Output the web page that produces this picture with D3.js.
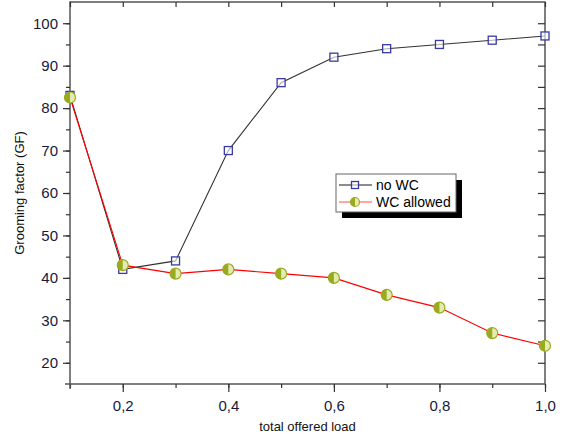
<!DOCTYPE html>
<html>
<head>
<meta charset="utf-8">
<script src="https://cdn.jsdelivr.net/npm/d3@7"></script>
<style>
  body { margin: 0; background: #fff; }
  text { font-family: Arial, "Liberation Sans", sans-serif; }
</style>
</head>
<body>
<div id="chart"></div>
<script>
const load = [0.1, 0.2, 0.3, 0.4, 0.5, 0.6, 0.7, 0.8, 0.9, 1.0];
const noWC = [83, 42, 44, 70, 86, 92, 94, 95, 96, 97];
const wcAllowed = [82.5, 43, 41, 42, 41, 40, 36, 33, 27, 24];
const xTickLabels = [0.2, 0.4, 0.6, 0.8, 1.0];
const yTickLabels = [20, 30, 40, 50, 60, 70, 80, 90, 100];

const width = 571, height = 441;
const margin = { top: 2, right: 26, bottom: 57, left: 70 };

const svg = d3.select("#chart").append("svg")
    .attr("width", width)
    .attr("height", height);

const x = d3.scaleLinear().domain([0.1, 1.0]).range([margin.left, width - margin.right]);
const y = d3.scaleLinear().domain([15, 105]).range([height - margin.bottom, margin.top]);

const axisColor = "#555";
const labelColor = "#141a3c";
const fmt = d => d3.format(".1f")(d).replace(".", ",");

// frame
svg.append("rect")
    .attr("x", x(0.1)).attr("y", y(105))
    .attr("width", x(1.0) - x(0.1)).attr("height", y(15) - y(105))
    .attr("fill", "none").attr("stroke", axisColor).attr("stroke-width", 1.5);

// bottom axis
const xMinor = d3.range(0.1, 1.01, 0.1).map(v => +v.toFixed(1));
svg.append("g").attr("transform", `translate(0,${y(15)})`)
    .call(d3.axisBottom(x).tickValues(xTickLabels).tickFormat(fmt).tickSize(8).tickPadding(8));
svg.append("g").attr("transform", `translate(0,${y(15)})`)
    .call(d3.axisBottom(x).tickValues(xMinor).tickFormat("").tickSize(4));
// top axis, ticks inward
svg.append("g").attr("transform", `translate(0,${y(105)})`)
    .call(d3.axisBottom(x).tickValues(xMinor).tickFormat("").tickSize(5));

// left axis
const yMinor = d3.range(20, 101, 5);
svg.append("g").attr("transform", `translate(${x(0.1)},0)`)
    .call(d3.axisLeft(y).tickValues(yTickLabels).tickSize(7).tickPadding(5));
svg.append("g").attr("transform", `translate(${x(0.1)},0)`)
    .call(d3.axisLeft(y).tickValues(yMinor).tickFormat("").tickSize(4));
// right axis, ticks inward
svg.append("g").attr("transform", `translate(${x(1.0)},0)`)
    .call(d3.axisLeft(y).tickValues(yMinor).tickFormat("").tickSize(7));

svg.selectAll(".domain").remove();
svg.selectAll(".tick line").attr("stroke", "#333").attr("stroke-width", 1.2);
svg.selectAll(".tick text")
    .attr("fill", labelColor)
    .style("font-size", "15px");

// axis corner overhang
svg.append("line")
    .attr("x1", x(0.1)).attr("x2", x(0.1))
    .attr("y1", y(15)).attr("y2", y(15) + 5)
    .attr("stroke", axisColor).attr("stroke-width", 1.5);
svg.append("line")
    .attr("x1", x(0.1) - 5).attr("x2", x(0.1))
    .attr("y1", y(15)).attr("y2", y(15))
    .attr("stroke", axisColor).attr("stroke-width", 1.5);

// axis titles
svg.append("text")
    .attr("x", (x(0.1) + x(1.0)) / 2)
    .attr("y", 431)
    .attr("text-anchor", "middle")
    .attr("fill", "#111")
    .style("font-size", "13px")
    .text("total offered load");

svg.append("text")
    .attr("transform", `translate(24,${(y(15) + y(105)) / 2}) rotate(-90)`)
    .attr("text-anchor", "middle")
    .attr("fill", "#111")
    .style("font-size", "13px")
    .text("Grooming factor (GF)");

// lines
const line = d3.line().x((d, i) => x(load[i])).y(d => y(d));

svg.append("path").datum(noWC)
    .attr("d", line).attr("fill", "none")
    .attr("stroke", "#333").attr("stroke-width", 1.1);

svg.append("path").datum(wcAllowed)
    .attr("d", line).attr("fill", "none")
    .attr("stroke", "#f00").attr("stroke-width", 1.1);

// markers
const olive = "#9aaa1e";
const pale = "#e4ebb0";
function halfCircle(g, cx, cy, r) {
    g.append("circle").attr("cx", cx).attr("cy", cy).attr("r", r)
        .attr("fill", pale).attr("stroke", olive).attr("stroke-width", 1.2);
    g.append("path")
        .attr("d", `M${cx},${cy - r} A${r},${r} 0 0 0 ${cx},${cy + r} Z`)
        .attr("fill", olive);
}
function square(g, cx, cy, s) {
    g.append("rect").attr("x", cx - s / 2).attr("y", cy - s / 2)
        .attr("width", s).attr("height", s)
        .attr("fill", "#fff").attr("fill-opacity", 0.6)
        .attr("stroke", "#3a3aa6").attr("stroke-width", 1.3);
}

const markers = svg.append("g");
noWC.forEach((v, i) => square(markers, x(load[i]), y(v), 8));
wcAllowed.forEach((v, i) => halfCircle(markers, x(load[i]), y(v), 5.5));

// legend
const lg = svg.append("g").attr("transform", "translate(336,174)");
lg.append("rect").attr("x", 6).attr("y", 6).attr("width", 120).attr("height", 38).attr("fill", "#000");
lg.append("rect").attr("x", 0).attr("y", 0).attr("width", 120).attr("height", 38)
    .attr("fill", "#fff").attr("stroke", "#666").attr("stroke-width", 1);

const legendItems = [
    { name: "no WC", color: "#666", mark: "square" },
    { name: "WC allowed", color: "#f88", mark: "circle" }
];
legendItems.forEach((d, i) => {
    const cy = 11 + i * 17;
    lg.append("line").attr("x1", 3).attr("x2", 36).attr("y1", cy).attr("y2", cy)
        .attr("stroke", d.color).attr("stroke-width", 1.3);
    if (d.mark === "square") square(lg, 19, cy, 7);
    else halfCircle(lg, 19, cy, 4.5);
    lg.append("text").attr("x", 40).attr("y", cy + 5)
        .attr("fill", "#000").style("font-size", "14px")
        .text(d.name);
});
</script>
</body>
</html>
